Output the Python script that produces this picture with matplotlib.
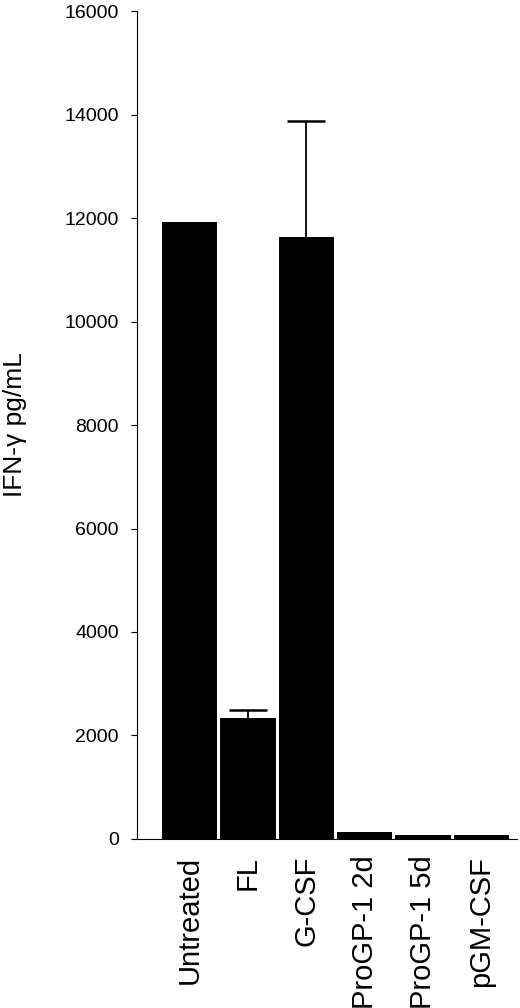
import numpy as np
import matplotlib
matplotlib.use("Agg")
import matplotlib.pyplot as plt

plt.rcParams['font.family'] = ['Liberation Sans', 'DejaVu Sans']

# values
groups = ["Untreated", "FL", "G-CSF", "ProGP-1 2d", "ProGP-1 5d", "pGM-CSF"]
ifn = [11920, 2340, 11630, 140, 70, 75]
err_up = [0, 155, 2240, 0, 0, 0]
yticks = [0, 2000, 4000, 6000, 8000, 10000, 12000, 14000, 16000]

fig = plt.figure(figsize=(5.2, 10.08), dpi=100)
ax = fig.add_axes([0.2635, 0.1677, 0.7305, 0.8213])

x = np.arange(len(groups))
ax.bar(x, ifn, width=0.95, color="black", zorder=2)

# only the upper half of the error bars is drawn (stem + cap)
for i in range(len(groups)):
    if err_up[i] > 0:
        top = ifn[i] + err_up[i]
        ax.vlines(x[i], ifn[i], top, color="black", lw=1.3, zorder=3)
        ax.hlines(top, x[i] - 0.33, x[i] + 0.33, color="black", lw=1.8, zorder=3)

ax.set_xlim(-0.9, 5.61)
ax.set_ylim(0, 16000)
ax.set_yticks(yticks)
ax.set_yticklabels([str(v) for v in yticks], fontsize=14)
ax.set_xticks(x)
ax.set_xticklabels(groups, rotation=90, fontsize=21)
ax.tick_params(axis="x", length=0, pad=12)
ax.tick_params(axis="y", length=4, width=0.8, pad=9)

for s in ["top", "right"]:
    ax.spines[s].set_visible(False)
ax.spines["left"].set_linewidth(0.8)
ax.spines["bottom"].set_linewidth(0.8)

ax.set_ylabel("IFN-γ pg/mL", fontsize=19)
ax.yaxis.set_label_coords(-0.29, 0.5)

fig.savefig("out.png", dpi=100)
